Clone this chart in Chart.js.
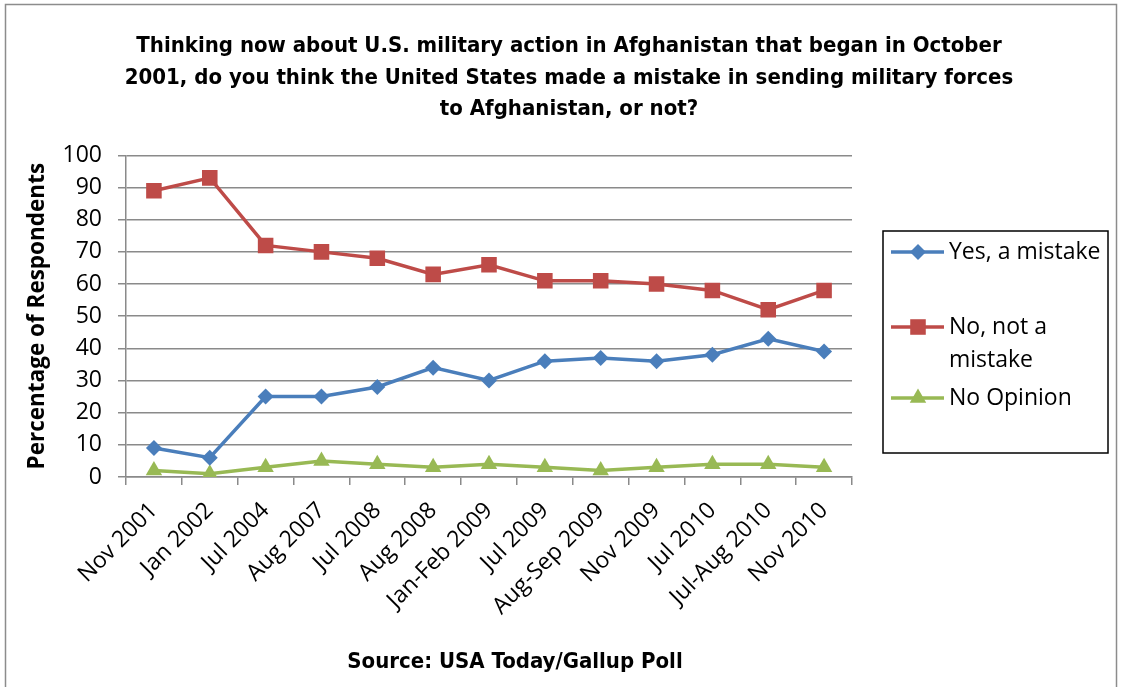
<!DOCTYPE html>
<html lang="en">
<head>
  <meta charset="UTF-8">
  <title>U.S. military action in Afghanistan</title>
  <style>
    body {
      margin: 0;
      background: #fff;
    }
    #wrap {
      width: 1121px;
      height: 687px;
    }
  </style>
</head>
<body>
  <div id="wrap"><canvas id="chart" width="1121" height="687"></canvas></div>

  <script src="https://cdn.jsdelivr.net/npm/chart.js"></script>
  <script>
    // Gallup survey dates
    const SURVEYS = ['Nov 2001', 'Jan 2002', 'Jul 2004', 'Aug 2007', 'Jul 2008', 'Aug 2008', 'Jan-Feb 2009',
                     'Jul 2009', 'Aug-Sep 2009', 'Nov 2009', 'Jul 2010', 'Jul-Aug 2010', 'Nov 2010'];
    // answers, percent
    const YES_MISTAKE = [9, 6, 25, 25, 28, 34, 30, 36, 37, 36, 38, 43, 39];
    const NOT_MISTAKE = [89, 93, 72, 70, 68, 63, 66, 61, 61, 60, 58, 52, 58];
    const NO_OPINION  = [2, 1, 3, 5, 4, 3, 4, 3, 2, 3, 4, 4, 3];
    const Y_MIN = 0, Y_MAX = 100, Y_STEP = 10;

    const TITLE = [
      'Thinking now about U.S. military action in Afghanistan that began in October',
      '2001, do you think the United States made a mistake in sending military forces',
      'to Afghanistan, or not?'
    ];
    const SOURCE = 'Source: USA Today/Gallup Poll';

    const SANS = '"Open Sans", sans-serif';
    const NARROW = '"Liberation Sans Narrow", "DejaVu Sans Condensed", sans-serif';
    const GRID = '#8a8a8a';

    // frame, source line and the boxed legend on the right
    const extras = {
      id: 'extras',
      beforeDraw(chart) {
        const ctx = chart.ctx;
        ctx.save();
        ctx.strokeStyle = '#8c8c8c';
        ctx.lineWidth = 1.5;
        ctx.strokeRect(5.5, 4.5, 1111, 720);
        ctx.restore();
      },
      afterDraw(chart) {
        const ctx = chart.ctx;
        const area = chart.chartArea;
        ctx.save();

        ctx.fillStyle = '#000';
        ctx.font = 'bold 22px ' + NARROW;
        ctx.textAlign = 'center';
        ctx.textBaseline = 'middle';
        ctx.fillText(SOURCE, (area.left + area.right) / 2 + 26, 662);

        // legend box
        const bx = area.right + 31, by = 231, bw = 225, bh = 222;
        ctx.strokeStyle = '#000';
        ctx.lineWidth = 1.5;
        ctx.strokeRect(bx, by, bw, bh);

        const rows = [252, 327, 398];
        ctx.font = '23px ' + SANS;
        ctx.textAlign = 'left';
        chart.data.datasets.forEach((ds, i) => {
          const y = rows[i];
          ctx.strokeStyle = ds.borderColor;
          ctx.lineWidth = 3.5;
          ctx.beginPath();
          ctx.moveTo(bx + 8, y);
          ctx.lineTo(bx + 61, y);
          ctx.stroke();
          ctx.fillStyle = ds.pointBackgroundColor;
          Chart.helpers.drawPoint(ctx, {
            pointStyle: ds.pointStyle,
            radius: ds.pointRadius,
            borderWidth: 0
          }, bx + 35, y);

          // wrap the label inside the box
          const words = ds.label.split(' ');
          const lines = [];
          let cur = '';
          words.forEach(w => {
            const t = cur ? cur + ' ' + w : w;
            if (ctx.measureText(t).width > 156 && cur) { lines.push(cur); cur = w; } else { cur = t; }
          });
          lines.push(cur);
          ctx.fillStyle = '#000';
          lines.forEach((l, k) => ctx.fillText(l, bx + 66, y + k * 33));
        });
        ctx.restore();
      }
    };

    function series(label, data, color, style, radius) {
      return {
        label,
        data,
        borderColor: color,
        backgroundColor: color,
        pointBackgroundColor: color,
        pointBorderColor: color,
        pointBorderWidth: 0,
        pointStyle: style,
        pointRadius: radius,
        borderWidth: 3.5,
        tension: 0
      };
    }

    new Chart(document.getElementById('chart'), {
      type: 'line',
      data: {
        labels: SURVEYS,
        datasets: [
          series('Yes, a mistake', YES_MISTAKE, '#4a7ebb', 'rectRot', 8),
          series('No, not a mistake', NOT_MISTAKE, '#be4b48', 'rect', 11),
          series('No Opinion', NO_OPINION, '#98b954', 'triangle', 9.5)
        ]
      },
      plugins: [extras],
      options: {
        responsive: false,
        animation: false,
        layout: { padding: { left: 17, right: 0, top: 0, bottom: 0 } },
        plugins: {
          legend: { display: false },
          tooltip: { enabled: false },
          title: {
            display: true,
            text: TITLE,
            color: '#000',
            font: { family: NARROW, size: 22, weight: 'bold', lineHeight: 1.43 },
            padding: { top: 31, bottom: 30 }
          }
        },
        scales: {
          x: {
            offset: true,
            afterFit: s => { s.height = 210; },
            grid: { display: true, drawOnChartArea: false, offset: true, tickLength: 8, color: GRID, lineWidth: 1.5 },
            border: { display: true, color: GRID, width: 1.5 },
            ticks: { color: '#000', font: { family: SANS, size: 23 }, minRotation: 45, maxRotation: 45, autoSkip: false, padding: 12 }
          },
          y: {
            min: Y_MIN,
            max: Y_MAX,
            afterFit: s => { s.width = 109; },
            grid: { color: GRID, lineWidth: 1.5, tickLength: 8 },
            border: { display: true, color: GRID, width: 1.5 },
            ticks: { stepSize: Y_STEP, color: '#000', font: { family: SANS, size: 23 }, padding: 16 },
            title: {
              display: true,
              text: 'Percentage of Respondents',
              color: '#000',
              font: { family: SANS, size: 22.5, weight: 'bold', lineHeight: 1.2 },
              padding: { top: 7 }
            }
          },
          // empty right-hand axis that keeps room for the legend box
          side: {
            position: 'right',
            display: true,
            afterFit: s => { s.width = 269; },
            grid: { display: false },
            border: { display: false },
            ticks: { display: false }
          }
        }
      }
    });
  </script>
</body>
</html>
